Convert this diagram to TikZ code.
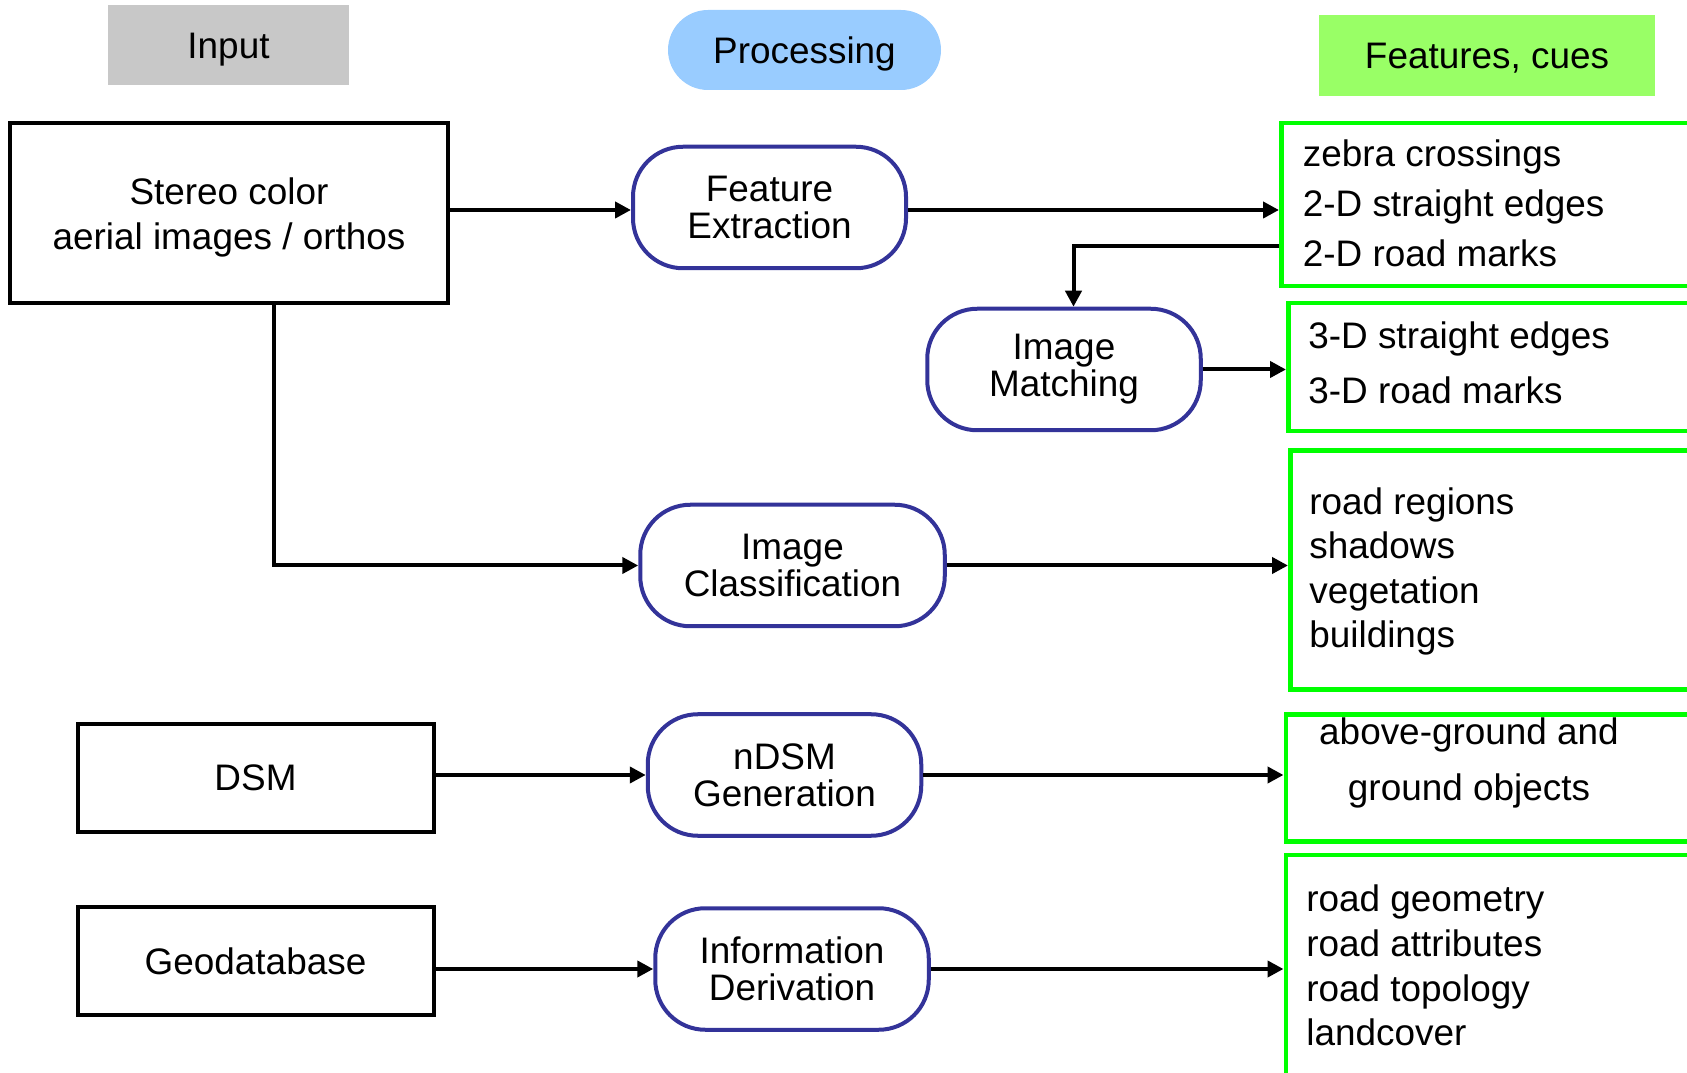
\documentclass[tikz,border=0pt]{standalone}
\usepackage{fontspec}
\setmainfont{Liberation Sans}
\usepackage{tikz}
\usetikzlibrary{arrows.meta}
\usetikzlibrary{positioning}

\definecolor{inputgray}{HTML}{C8C8C8}
\definecolor{procblue}{HTML}{99CCFF}
\definecolor{cuefill}{HTML}{99FF66}
\definecolor{procline}{HTML}{333399}
\definecolor{cueline}{HTML}{00FF00}

\tikzset{
	header/.style = {minimum height = 1.6cm, inner sep = 0pt, text height = 15.1pt, text depth = 0pt, font = \fontsize{21}{21}\selectfont},
	inputbox/.style = {draw, line width = 0.08cm, align = center, inner sep = 0pt, font = \fontsize{21}{25.6}\selectfont},
	procbox/.style = {draw = procline, line width = 0.08cm, rounded corners = 1.0cm, minimum height = 2.43cm, align = center, inner sep = 0pt, font = \fontsize{21}{21}\selectfont},
	cuebox/.style = {draw = cueline, line width = 0.09cm, anchor = west, minimum width = 10cm, inner sep = 0pt},
	cuetext/.style = {align = left, inner sep = 0pt, font = \fontsize{21}{#1}\selectfont},
	cuetext/.default = 25.3,
	arr/.style = {line width = 0.08cm, -{Triangle[length = 0.32cm, width = 0.32cm]}}
}

\begin{document}
\begin{tikzpicture}
	\useasboundingbox (0, 0) rectangle (33.74, -21.46);
	\clip (0, 0) rectangle (33.74, -21.46);

	% column heads
	\node[header, fill = inputgray, minimum width = 4.82cm] (hinput) at (4.57, -0.91) {Input};
	\node[header, fill = procblue, minimum width = 5.46cm, rounded corners = 0.8cm] (hproc) at (16.09, -1.0) {Processing};
	\node[header, fill = cuefill, minimum width = 6.72cm, minimum height = 1.62cm] (hcue) at (29.74, -1.11) {Features, cues};

	% input data
	\node[inputbox, minimum width = 8.76cm, minimum height = 3.6cm, text depth = 0pt] (stereo) at (4.58, -4.27) {Stereo color\\aerial images / orthos};
	\node[inputbox, minimum width = 7.12cm, minimum height = 2.15cm] (dsm) at (5.11, -15.56) {DSM};
	\node[inputbox, minimum width = 7.12cm, minimum height = 2.15cm] (geo) at (5.11, -19.22) {Geodatabase};

	% processing steps
	\node[procbox, minimum width = 5.46cm] (fe) at (15.39, -4.15) {Feature\\Extraction};
	\node[procbox, minimum width = 5.47cm] (im) at (21.28, -7.39) {Image\\Matching};
	\node[procbox, minimum width = 6.09cm] (ic) at (15.85, -11.31) {Image\\Classification};
	\node[procbox, minimum width = 5.47cm] (ndsm) at (15.69, -15.5) {nDSM\\Generation};
	\node[procbox, minimum width = 5.47cm] (id) at (15.84, -19.38) {Information\\Derivation};

	% features, cues
	\node[cuebox, minimum height = 3.26cm] (g1) at (25.58, -4.09) {};
	\node[cuebox, minimum height = 2.56cm] (g2) at (25.72, -7.34) {};
	\node[cuebox, minimum height = 4.78cm] (g3) at (25.76, -11.4) {};
	\node[cuebox, minimum height = 2.54cm] (g4) at (25.67, -15.56) {};
	\node[cuebox, minimum height = 4.8cm] (g5) at (25.67, -19.5) {};

	\node[cuetext = 28.5, right = 0.47cm of g1.west, yshift = 0.03cm] (t1) {zebra crossings\\2-D straight edges\\2-D road marks};
	\node[cuetext = 31.3, right = 0.44cm of g2.west, yshift = 0.09cm] (t2) {3-D straight edges\\3-D road marks};
	\node[cuetext, right = 0.42cm of g3.west, yshift = -0.03cm] (t3) {road regions\\shadows\\vegetation\\buildings};
	\node[cuetext = 31.9, align = center] (t4) at (29.38, -15.26) {above-ground and\\ground objects};
	\node[cuetext = 25.5, right = 0.45cm of g5.west, yshift = 0.19cm] (t5) {road geometry\\road attributes\\road topology\\landcover};

	% connectors
	\draw[arr] ([yshift = -0.05cm]fe.west -| stereo.east) -- ([yshift = -0.05cm]fe.west);
	\draw[arr] ([yshift = -0.05cm]fe.east) -- ([yshift = -0.05cm]fe.east -| g1.west);
	\draw[arr] ([yshift = -0.84cm]g1.west) -| ([xshift = 0.19cm]im.north);
	\draw[arr] (im.east) -- (im.east -| g2.west);
	\draw[arr] ([xshift = 0.9cm]stereo.south) |- (ic.west);
	\draw[arr] (ic.east) -- (ic.east -| g3.west);
	\draw[arr] (ndsm.west -| dsm.east) -- (ndsm.west);
	\draw[arr] (ndsm.east) -- (ndsm.east -| g4.west);
	\draw[arr] (id.west -| geo.east) -- (id.west);
	\draw[arr] (id.east) -- (id.east -| g5.west);
\end{tikzpicture}
\end{document}
